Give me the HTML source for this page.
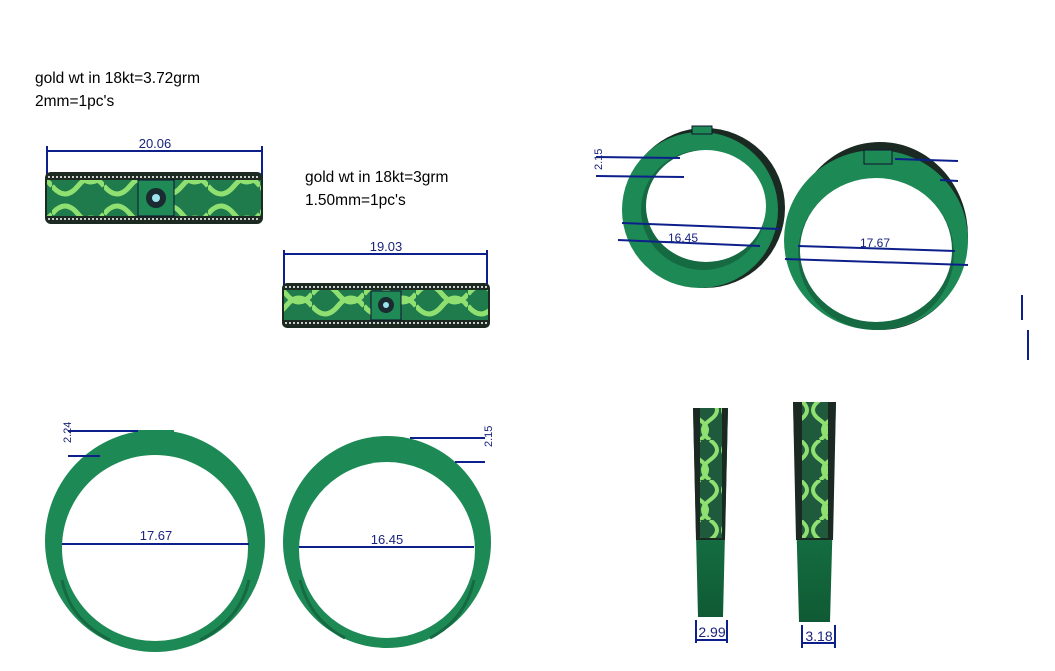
<!DOCTYPE html>
<html><head><meta charset="utf-8"><style>
html,body{margin:0;padding:0;background:#fff}
svg{display:block}
.t{font-family:"Liberation Sans",sans-serif;fill:#1a237e}
.lbl{font-family:"Liberation Sans",sans-serif;font-size:15.5px;fill:#000}
</style></head><body>
<svg width="1055" height="671" viewBox="0 0 1055 671" xmlns="http://www.w3.org/2000/svg">
<defs>
<pattern id="wave" x="0" y="0" width="52" height="40" patternUnits="userSpaceOnUse">
<rect width="52" height="40" fill="#1f7a4c"/>
<path d="M0 14 Q13 -2 26 14 T52 14" fill="none" stroke="#8fe070" stroke-width="5"/>
<path d="M0 26 Q13 42 26 26 T52 26" fill="none" stroke="#8fe070" stroke-width="5"/>
</pattern>
<pattern id="vwave" x="0" y="0" width="30" height="40" patternUnits="userSpaceOnUse">
<rect width="30" height="40" fill="#1f5a3c"/>
<path d="M10 0 Q-4 10 10 20 T10 40" fill="none" stroke="#8fe070" stroke-width="4"/>
<path d="M20 0 Q34 10 20 20 T20 40" fill="none" stroke="#8fe070" stroke-width="4"/>
</pattern>
<linearGradient id="sg" x1="0" y1="0" x2="0" y2="1"><stop offset="0" stop-color="#1f8a56"/><stop offset="1" stop-color="#0f5a34"/></linearGradient>
</defs>

<text class="lbl" x="35" y="83">gold wt in 18kt=3.72grm</text>
<text class="lbl" x="35" y="106">2mm=1pc's</text>
<text class="lbl" x="305" y="182">gold wt in 18kt=3grm</text>
<text class="lbl" x="305" y="205">1.50mm=1pc's</text>

<g stroke="#0d1f8a" stroke-width="2" fill="none">
<line x1="47" y1="146" x2="47" y2="195"/><line x1="262" y1="146" x2="262" y2="180"/>
<line x1="47" y1="151" x2="262" y2="151"/>
<line x1="284" y1="250" x2="284" y2="300"/><line x1="487" y1="250" x2="487" y2="290"/>
<line x1="284" y1="254" x2="487" y2="254"/>
</g>
<text class="t" x="155" y="148" font-size="13" text-anchor="middle">20.06</text>
<text class="t" x="386" y="251" font-size="13" text-anchor="middle">19.03</text>

<rect x="45" y="172" width="218" height="52" rx="6" fill="#1c2a22"/>
<rect x="47" y="180" width="214" height="36" fill="url(#wave)"/>
<line x1="48" y1="177" x2="260" y2="177" stroke="#ccc" stroke-width="2" stroke-dasharray="2 2"/>
<line x1="48" y1="219" x2="260" y2="219" stroke="#ccc" stroke-width="2" stroke-dasharray="2 2"/>
<rect x="138" y="180" width="36" height="36" fill="#1f8a56" stroke="#113"/>
<circle cx="156" cy="198" r="10" fill="#1a2a30"/><circle cx="156" cy="198" r="4" fill="#9de4f0"/>

<rect x="282" y="283" width="208" height="45" rx="5" fill="#1c2a22"/>
<rect x="284" y="290" width="204" height="30" fill="url(#wave)"/>
<line x1="285" y1="287" x2="488" y2="287" stroke="#ccc" stroke-width="2" stroke-dasharray="2 2"/>
<line x1="285" y1="323" x2="488" y2="323" stroke="#ccc" stroke-width="2" stroke-dasharray="2 2"/>
<rect x="371" y="291" width="30" height="29" fill="#1f8a56" stroke="#113"/>
<circle cx="386" cy="305" r="8" fill="#1a2a30"/><circle cx="386" cy="305" r="3" fill="#9de4f0"/>

<ellipse cx="705" cy="208" rx="80" ry="80" fill="#1a2a22"/>
<ellipse cx="700" cy="210" rx="78" ry="78" fill="#1d8a55"/>
<ellipse cx="703" cy="210" rx="62" ry="60" fill="#166a42"/>
<ellipse cx="706" cy="206" rx="60" ry="56" fill="#fff"/>
<rect x="692" y="126" width="20" height="8" fill="#1d8a55" stroke="#113"/>
<ellipse cx="880" cy="236" rx="88" ry="94" fill="#1a2a22"/>
<ellipse cx="876" cy="240" rx="92" ry="90" fill="#1d8a55"/>
<ellipse cx="876" cy="254" rx="78" ry="76" fill="#166a42"/>
<ellipse cx="876" cy="250" rx="76" ry="72" fill="#fff"/>
<rect x="864" y="150" width="28" height="14" fill="#1d8a55" stroke="#113"/>
<g stroke="#0d1f8a" stroke-width="2" fill="none">
<line x1="596" y1="157" x2="680" y2="158"/><line x1="596" y1="176" x2="684" y2="177"/>
<line x1="622" y1="223" x2="780" y2="229"/><line x1="618" y1="240" x2="760" y2="246"/>
<line x1="798" y1="246" x2="955" y2="251"/><line x1="785" y1="259" x2="968" y2="265"/>
<line x1="895" y1="159" x2="958" y2="161"/><line x1="940" y1="180" x2="958" y2="181"/>
<line x1="1022" y1="295" x2="1022" y2="320"/><line x1="1028" y1="330" x2="1028" y2="360"/>
</g>
<text class="t" x="668" y="242" font-size="12">16.45</text>
<text class="t" x="860" y="247" font-size="12">17.67</text>
<text class="t" x="597" y="175" font-size="11" transform="rotate(-90 597 170)">2.15</text>

<ellipse cx="155" cy="541" rx="110" ry="111" fill="#1d8a55"/>
<ellipse cx="155" cy="548" rx="93" ry="93" fill="#fff"/>
<rect x="136" y="430" width="38" height="9" fill="#1d8a55"/>
<path d="M62 580 Q70 620 110 640" stroke="#166a42" stroke-width="3" fill="none"/>
<path d="M249 580 Q240 620 200 640" stroke="#166a42" stroke-width="3" fill="none"/>
<ellipse cx="387" cy="542" rx="104" ry="106" fill="#1d8a55"/>
<ellipse cx="387" cy="550" rx="88" ry="88" fill="#fff"/>
<rect x="373" y="437" width="30" height="8" fill="#1d8a55"/>
<path d="M300 580 Q310 620 345 638" stroke="#166a42" stroke-width="3" fill="none"/>
<path d="M474 580 Q465 620 430 638" stroke="#166a42" stroke-width="3" fill="none"/>
<g stroke="#0d1f8a" stroke-width="2" fill="none">
<line x1="62" y1="544" x2="249" y2="544"/><line x1="299" y1="547" x2="474" y2="547"/>
<line x1="68" y1="431" x2="138" y2="431"/><line x1="68" y1="456" x2="100" y2="456"/>
<line x1="410" y1="438" x2="485" y2="438"/><line x1="455" y1="462" x2="485" y2="462"/>
</g>
<text class="t" x="156" y="540" font-size="13" text-anchor="middle">17.67</text>
<text class="t" x="387" y="544" font-size="13" text-anchor="middle">16.45</text>
<text class="t" x="66" y="448" font-size="11" transform="rotate(-90 66 443)">2.24</text>
<text class="t" x="487" y="452" font-size="11" transform="rotate(-90 487 447)">2.15</text>

<path d="M693 408 L728 408 L723 617 L698 617 Z" fill="url(#sg)"/>
<path d="M693 408 L728 408 L725 540 L696 540 Z" fill="#1a2a22"/>
<rect x="700" y="408" width="22" height="130" fill="url(#vwave)"/>
<path d="M793 402 L836 402 L830 622 L799 622 Z" fill="url(#sg)"/>
<path d="M793 402 L836 402 L833 540 L796 540 Z" fill="#1a2a22"/>
<rect x="802" y="402" width="26" height="136" fill="url(#vwave)"/>
<g stroke="#0d1f8a" stroke-width="2" fill="none">
<line x1="696" y1="620" x2="696" y2="643"/><line x1="727" y1="620" x2="727" y2="643"/>
<line x1="696" y1="640" x2="727" y2="640"/>
<line x1="802" y1="625" x2="802" y2="648"/><line x1="835" y1="625" x2="835" y2="648"/>
<line x1="802" y1="643" x2="835" y2="643"/>
</g>
<text class="t" x="712" y="637" font-size="14" text-anchor="middle">2.99</text>
<text class="t" x="819" y="641" font-size="14" text-anchor="middle">3.18</text>
</svg>
</body></html>
